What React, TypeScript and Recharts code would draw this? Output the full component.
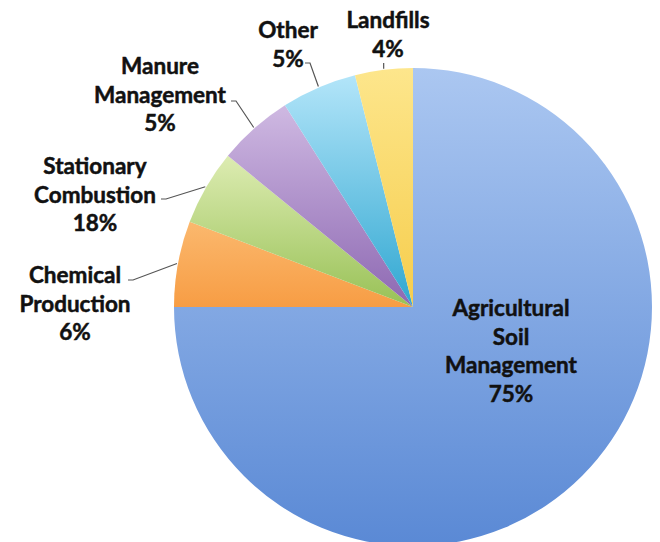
import * as React from 'react'
import { Cell, Pie, PieChart } from 'recharts'

const categories = [
  'Agricultural Soil Management',
  'Chemical Production',
  'Stationary Combustion',
  'Manure Management',
  'Other',
  'Landfills',
]
// slice sizes as drawn in the picture
const shares = [75, 5.8, 5.1, 5.1, 5.1, 3.9]
// percent text as printed on the labels
const percentLabels = ['75%', '6%', '18%', '5%', '5%', '4%']
const nameLines = [
  ['Agricultural', 'Soil', 'Management'],
  ['Chemical', 'Production'],
  ['Stationary', 'Combustion'],
  ['Manure', 'Management'],
  ['Other'],
  ['Landfills'],
]

const GRADIENTS = [
  ['#abc7f1', '#5a89d5'],
  ['#fbb86e', '#f79d44'],
  ['#ddecb2', '#98c156'],
  ['#cfb9e2', '#8d68b2'],
  ['#b3e5f9', '#30a7d1'],
  ['#fde68c', '#f6cd4c'],
]

// label placement relative to the pie centre: text centre x, first baseline y, leader end
const LABEL_LAYOUT = [
  { tx: 98, ty: 9, lx: null, ly: null },
  { tx: -338, ty: -24, lx: -285, ly: -27 },
  { tx: -318, ty: -133, lx: -252, ly: -108 },
  { tx: -253, ty: -233, lx: -182, ly: -206 },
  { tx: -125, ty: -269, lx: -108, ly: -244 },
  { tx: -25, ty: -279, lx: -29, ly: -244 },
]

const LINE_H = 28.5
const RAD = Math.PI / 180

const data = categories.map((name, i) => ({ name, value: shares[i] }))

function renderLabel(props: any) {
  const { cx, cy, midAngle, outerRadius, index } = props
  const layout = LABEL_LAYOUT[index]
  const lines = [...nameLines[index], percentLabels[index]]
  const x = cx + layout.tx
  const y0 = cy + layout.ty
  let leader = null
  if (layout.lx !== null) {
    const ex = cx + (outerRadius + 1) * Math.cos(-midAngle * RAD)
    const ey = cy + (outerRadius + 1) * Math.sin(-midAngle * RAD)
    const lx = cx + layout.lx
    const ly = cy + layout.ly
    const vertical = Math.abs(ex - lx) < 4
    const d = vertical ? `M${ex},${ly}L${ex},${ey}` : `M${lx},${ly}L${lx + 5},${ly}L${ex},${ey}`
    leader = <path d={d} fill="none" stroke="#555" strokeWidth={1.2} />
  }
  return (
    <g key={`lbl-${index}`}>
      {leader}
      <text
        x={x}
        y={y0}
        textAnchor="middle"
        fill="#111"
        stroke="#111"
        strokeWidth={0.5}
        style={{ fontFamily: 'Lato, "Open Sans", sans-serif', fontWeight: 700, fontSize: 22.5 }}
      >
        {lines.map((line, i) => (
          <tspan key={i} x={x} y={y0 + i * LINE_H}>
            {line}
          </tspan>
        ))}
      </text>
    </g>
  )
}

export default function App() {
  return (
    <div style={{ position: 'absolute', left: 0, top: 0, width: 660, height: 542, background: '#fff' }}>
      <PieChart width={660} height={542} margin={{ top: 0, right: 0, bottom: 0, left: 0 }}>
        <defs>
          {GRADIENTS.map(([top, bottom], i) => (
            <linearGradient key={i} id={`slice-${i}`} x1="0" y1="0" x2="0" y2="1">
              <stop offset="0%" stopColor={top} />
              <stop offset="100%" stopColor={bottom} />
            </linearGradient>
          ))}
        </defs>
        <Pie
          data={data}
          dataKey="value"
          nameKey="name"
          cx={413}
          cy={307}
          outerRadius={239}
          startAngle={90}
          endAngle={-270}
          stroke="none"
          label={renderLabel}
          labelLine={false}
          isAnimationActive={false}
        >
          {data.map((entry, i) => (
            <Cell key={entry.name} fill={`url(#slice-${i})`} />
          ))}
        </Pie>
      </PieChart>
    </div>
  )
}
